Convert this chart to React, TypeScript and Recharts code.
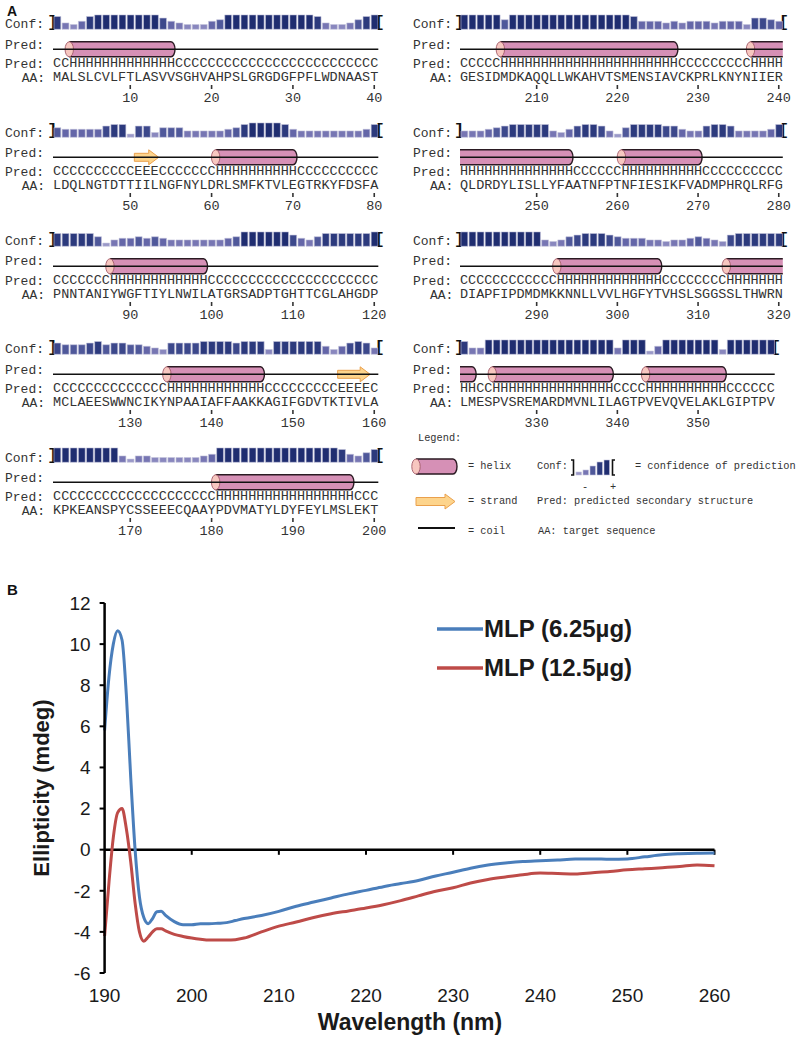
import React from "react";
import {
  ComposedChart,
  Bar,
  Cell,
  XAxis,
  YAxis,
  ReferenceArea,
  ReferenceLine,
  LineChart,
  Line,
  Legend,
} from "recharts";

// ---- panel A: secondary structure prediction ----
const ROW_START = [1, 41, 81, 121, 161, 201, 241, 281, 321];

const AA_ROWS = [
  "MALSLCVLFT" + "LASVVSGHVA" + "HPSLGRGDGF" + "PFLWDNAAST",
  "LDQLNGTDTT" + "IILNGFNYLD" + "RLSMFKTVLE" + "GTRKYFDSFA",
  "PNNTANIYWG" + "FTIYLNWILA" + "TGRSADPTGH" + "TTCGLAHGDP",
  "MCLAEESWWN" + "CIKYNPAAIA" + "FFAAKKAGIF" + "GDVTKTIVLA",
  "KPKEANSPYC" + "SSEEECQAAY" + "PDVMATYLDY" + "FEYLMSLEKT",
  "GESIDMDKAQ" + "QLLWKAHVTS" + "MENSIAVCKP" + "RLKNYNIIER",
  "QLDRDYLISL" + "LYFAATNFPT" + "NFIESIKFVA" + "DMPHRQLRFG",
  "DIAPFIPDMD" + "MKKNNLLVVL" + "HGFYTVHSLS" + "GGSSLTHWRN",
  "LMESPVSREM" + "ARDMVNLILA" + "GTPVEVQVEL" + "AKLGIPTPV",
];

const PRED_ROWS = [
  "CCHHHHHHHH" + "HHHHHCCCCC" + "CCCCCCCCCC" + "CCCCCCCCCC",
  "CCCCCCCCCC" + "EEECCCCCCC" + "HHHHHHHHHH" + "CCCCCCCCCC",
  "CCCCCCCHHH" + "HHHHHHHHHC" + "CCCCCCCCCC" + "CCCCCCCCCC",
  "CCCCCCCCCC" + "CCCCHHHHHH" + "HHHHHHCCCC" + "CCCCCEEEEC",
  "CCCCCCCCCC" + "CCCCCCCCCC" + "HHHHHHHHHH" + "HHHHHHHCCC",
  "CCCCCHHHHH" + "HHHHHHHHHH" + "HHHHHHHCCC" + "CCCCCCHHHH",
  "HHHHHHHHHH" + "HHHHCCCCCC" + "HHHHHHHHHH" + "CCCCCCCCCC",
  "CCCCCCCCCC" + "CCHHHHHHHH" + "HHHHHCCCCC" + "CCCHHHHHHH",
  "HHCCHHHHHH" + "HHHHHHHHHC" + "CCCHHHHHHH" + "HHHCCCCCC",
];

const CONF_ROWS = [
  "8435899999" + "9997543335" + "6999999999" + "9984334689",
  "6555557882" + "7736664444" + "4568999985" + "4444444458",
  "8888862455" + "6565444444" + "4569999997" + "5468888889",
  "7666786776" + "6543777788" + "8878883888" + "8885357874",
  "9999999942" + "4433333345" + "9999999999" + "9999985468",
  "9999969999" + "9999999999" + "9855545455" + "5455537765",
  "4445678888" + "8435788742" + "6888877544" + "7887444458",
  "9999999999" + "4346788876" + "5554434456" + "5437888888",
  "8449999999" + "9999999994" + "9992599999" + "993999999",
];

// ---- panel B: CD spectra ----
const WAVELENGTH = [
  190, 190.5, 191, 191.5, 192, 192.5, 193, 193.5, 194, 194.5, 195, 195.5, 196, 196.5, 197,
  198, 199, 200, 201, 202, 203, 204, 205, 206,
  208, 210, 212, 214, 216, 218, 220, 222, 224, 226, 228, 230, 232, 234, 236, 238, 240,
  242, 244, 246, 248, 250, 252, 254, 256, 258, 260,
];
const MLP_625 = [
  5.8, 8.4, 10.0, 10.65, 10.2, 7.5, 3.5, 0.0, -2.3, -3.3, -3.6, -3.35, -3.02, -3.0, -3.2,
  -3.5, -3.65, -3.65, -3.6, -3.6, -3.58, -3.55, -3.45, -3.35,
  -3.2, -3.0, -2.75, -2.55, -2.35, -2.15, -1.98, -1.8, -1.65, -1.5, -1.28, -1.1, -0.9, -0.75, -0.65, -0.58, -0.54,
  -0.5, -0.46, -0.45, -0.47, -0.45, -0.35, -0.25, -0.2, -0.17, -0.16,
];
const MLP_125 = [
  -4.2, -1.6, 0.6, 1.8, 2.0, 1.0, -0.6, -2.6, -4.0, -4.45, -4.25, -4.0, -3.85, -3.85, -3.95,
  -4.12, -4.22, -4.3, -4.36, -4.4, -4.4, -4.4, -4.38, -4.3,
  -4.0, -3.72, -3.52, -3.3, -3.12, -2.98, -2.84, -2.68, -2.48, -2.25, -2.02, -1.85, -1.62, -1.45, -1.33, -1.22, -1.14,
  -1.16, -1.18, -1.12, -1.06, -0.98, -0.93, -0.88, -0.82, -0.74, -0.78,
];
const X_TICKS = [190, 200, 210, 220, 230, 240, 250, 260];
const Y_TICKS = [-6, -4, -2, 0, 2, 4, 6, 8, 10, 12];

const MONO = '"Liberation Mono", "Courier New", monospace';
const SANS = '"Liberation Sans", Arial, sans-serif';
const TXT = "#333";

const CONF_SHADES = [
  "#b8b6d8", "#aaa8d0", "#9a98c8", "#8987be", "#7776b3",
  "#6466a8", "#4f589a", "#3c488b", "#2c3a7d", "#1f2d70",
];

const CD_DATA = WAVELENGTH.map((w, i) => ({ wl: w, a: MLP_625[i], b: MLP_125[i] }));

function runs(pred: string, start: number) {
  const out: { t: string; s: number; e: number }[] = [];
  let i = 0;
  while (i < pred.length) {
    let j = i;
    while (j + 1 < pred.length && pred[j + 1] === pred[i]) j++;
    if (pred[i] !== "C") out.push({ t: pred[i], s: start + i, e: start + j });
    i = j + 1;
  }
  return out;
}

function helixShape(capLeft: boolean, roundRight: boolean) {
  return (p: any) => {
    const { x, y, width, height } = p;
    const r = 4;
    const ry = height / 2;
    const rt = x + width;
    const fill = roundRight
      ? `M${x},${y} L${rt - r},${y} A${r},${ry} 0 0 1 ${rt - r},${y + height} L${x},${y + height} Z`
      : `M${x},${y} L${rt},${y} L${rt},${y + height} L${x},${y + height} Z`;
    const edge = roundRight
      ? `M${x},${y} L${rt - r},${y} A${r},${ry} 0 0 1 ${rt - r},${y + height} L${x},${y + height}`
      : `M${x},${y} L${rt},${y} M${x},${y + height} L${rt},${y + height}`;
    return (
      <g>
        <path d={fill} fill="#d690b6" />
        <path d={edge} fill="none" stroke="#2a1a22" strokeWidth={1.4} />
        {capLeft && (
          <ellipse cx={x} cy={y + ry} rx={4.2} ry={ry} fill="#f7c7c0" stroke="#a35a68" strokeWidth={0.9} />
        )}
      </g>
    );
  };
}

function strandShape(p: any) {
  const { x, y, width, height } = p;
  const cy = y + height / 2;
  const rt = x + width;
  const head = Math.min(10, width * 0.45);
  const pts = [
    [x, cy - 4], [rt - head, cy - 4], [rt - head, cy - 7.5], [rt, cy],
    [rt - head, cy + 7.5], [rt - head, cy + 4], [x, cy + 4],
  ].map((q) => q.join(",")).join(" ");
  return <polygon points={pts} fill="#fdd48c" stroke="#eaa04c" strokeWidth={1} />;
}

function Txt(props: { x: number; cy: number; size: number; family?: string; weight?: string; color?: string; children: React.ReactNode }) {
  const { x, cy, size, family = MONO, weight = "normal", color = TXT } = props;
  return (
    <div
      style={{
        position: "absolute",
        left: x,
        top: cy - size * 0.5,
        fontSize: size,
        lineHeight: `${size}px`,
        fontFamily: family,
        fontWeight: weight as any,
        color,
        whiteSpace: "pre",
      }}
    >
      {props.children}
    </div>
  );
}

function SeqBlock({ idx }: { idx: number }) {
  const start = ROW_START[idx];
  const aa = AA_ROWS[idx];
  const pred = PRED_ROWS[idx];
  const conf = CONF_ROWS[idx];
  const end = start + aa.length - 1;
  const data = aa.split("").map((_, i) => ({ r: start + i, conf: Number(conf[i]) }));
  const residues = data.map((d) => d.r);
  const numTicks = residues.filter((r) => r % 10 === 0);
  const segs = runs(pred, start);
  const rightCol = idx >= 5;
  const row = rightCol ? idx - 5 : idx;
  const charW = rightCol ? 8.07 : 8.133;
  const left = rightCol ? 460 : 53.3;
  const top = 13 + 108.35 * row;
  const base = top + 16.3;
  const domain = [start - 0.5, start + 39.5];
  const last = ROW_START.length - 1;

  const letterTick = (letters: string) => (p: any) => (
    <text x={p.x} y={p.y + 7} textAnchor="middle" dominantBaseline="central" fontFamily={MONO} fontSize={13.5} fill={TXT}>
      {letters[p.payload.value - start]}
    </text>
  );
  const numTick = (p: any) => (
    <text x={p.x} y={p.y + 7} textAnchor="middle" dominantBaseline="central" fontFamily={MONO} fontSize={13.5} fill={TXT}>
      {p.payload.value}
    </text>
  );

  const labelX = rightCol ? 413 : 5;
  const aaX = rightCol ? 430 : 21.7;

  // axis ids sort in stacking order: x1 (pred) nearest the plot, then x2 (aa), x3 (numbers)
  return (
    <>
      <Txt x={labelX} cy={base - 4.5} size={13}>Conf:</Txt>
      <Txt x={labelX} cy={base + 15.7} size={13}>Pred:</Txt>
      <Txt x={labelX} cy={base + 35} size={13}>Pred:</Txt>
      <Txt x={aaX} cy={base + 49} size={13}>AA:</Txt>
      <Txt x={left - 6} cy={base - 7} size={17} weight="bold" color="#111">]</Txt>
      <Txt x={left + aa.length * charW - 4} cy={base - 7} size={17} weight="bold" color="#111">[</Txt>
      <div style={{ position: "absolute", left, top }}>
        <ComposedChart width={40 * charW} height={96} data={data} margin={{ top: 0, right: 0, bottom: 0, left: 0 }}>
          <YAxis yAxisId="c" type="number" domain={[-17.31, 10.19]} allowDataOverflow hide width={0} />
          <XAxis
            xAxisId="x1" dataKey="r" type="number" domain={domain} ticks={residues} interval={0} allowDataOverflow
            height={14} axisLine={false} tickLine={false} tickSize={0} tickMargin={0} tick={letterTick(pred)}
          />
          <XAxis
            xAxisId="x2" dataKey="r" type="number" domain={domain} ticks={residues} interval={0} allowDataOverflow
            height={14} axisLine={false} tickLine={false} tickSize={0} tickMargin={0} tick={letterTick(aa)}
          />
          <XAxis
            xAxisId="x3" dataKey="r" type="number" domain={domain} ticks={numTicks} interval={0} allowDataOverflow
            height={24} axisLine={false} tickLine={{ stroke: "#333", strokeWidth: 1.6 }} tickSize={4} tickMargin={3} tick={numTick}
          />
          <XAxis xAxisId="x9" dataKey="r" type="number" domain={domain} ticks={residues} allowDataOverflow hide height={0} />
          <Bar dataKey="conf" xAxisId="x9" yAxisId="c" barSize={6.8} isAnimationActive={false}>
            {data.map((d) => (
              <Cell key={d.r} fill={CONF_SHADES[d.conf]} stroke="#c4c4dc" strokeWidth={0.6} />
            ))}
          </Bar>
          <ReferenceLine
            xAxisId="x9" yAxisId="c"
            segment={[{ x: start - 0.5, y: -12.5 }, { x: end + 0.5, y: -12.5 }]}
            stroke="#111" strokeWidth={1.6}
          />
          {segs.map((s) =>
            s.t === "H" ? (
              <ReferenceArea
                key={`h${s.s}`} xAxisId="x9" yAxisId="c" x1={s.s - 0.5} x2={s.e + 0.5} y1={-17.2} y2={-7.8}
                shape={helixShape(
                  !(s.s === start && idx > 0 && PRED_ROWS[idx - 1].endsWith("H")),
                  !(s.e === end && idx < last && PRED_ROWS[idx + 1].startsWith("H"))
                )}
              />
            ) : (
              <ReferenceArea
                key={`e${s.s}`} xAxisId="x9" yAxisId="c" x1={s.s - 0.5} x2={s.e + 0.5} y1={-17.2} y2={-7.8}
                shape={strandShape}
              />
            )
          )}
        </ComposedChart>
      </div>
    </>
  );
}

function SSLegend() {
  return (
    <>
      <Txt x={418} cy={438} size={10.3}>Legend:</Txt>
      <svg style={{ position: "absolute", left: 411, top: 458 }} width={50} height={17}>
        <path d="M5,1 L42,1 A4,7.5 0 0 1 42,16 L5,16 Z" fill="#d690b6" />
        <path d="M5,1 L42,1 A4,7.5 0 0 1 42,16 L5,16" fill="none" stroke="#2a1a22" strokeWidth={1.4} />
        <ellipse cx={5} cy={8.5} rx={4.2} ry={7.5} fill="#f7c7c0" stroke="#a35a68" strokeWidth={0.9} />
      </svg>
      <Txt x={468} cy={466} size={10.3}>= helix</Txt>
      <Txt x={537} cy={466} size={10.3}>Conf:</Txt>
      <svg style={{ position: "absolute", left: 570, top: 458 }} width={54} height={18}>
        <path d="M1,2 H3.5 V17 H1" fill="none" stroke="#111" strokeWidth={1.6} />
        <rect x={6} y={14} width={5.5} height={3} fill={CONF_SHADES[2]} stroke="#c4c4dc" strokeWidth={0.6} />
        <rect x={13} y={12} width={5.5} height={5} fill={CONF_SHADES[4]} stroke="#c4c4dc" strokeWidth={0.6} />
        <rect x={20} y={8} width={5.5} height={9} fill={CONF_SHADES[6]} stroke="#c4c4dc" strokeWidth={0.6} />
        <rect x={27} y={4} width={5.5} height={13} fill={CONF_SHADES[8]} stroke="#c4c4dc" strokeWidth={0.6} />
        <rect x={34} y={2} width={5.5} height={15} fill={CONF_SHADES[9]} stroke="#c4c4dc" strokeWidth={0.6} />
        <path d="M45,2 H42.5 V17 H45" fill="none" stroke="#111" strokeWidth={1.6} />
      </svg>
      <Txt x={582} cy={487} size={10.3}>-</Txt>
      <Txt x={610} cy={487} size={10.3}>+</Txt>
      <Txt x={635} cy={466} size={10.3}>= confidence of prediction</Txt>
      <svg style={{ position: "absolute", left: 415, top: 493 }} width={42} height={17}>
        <polygon points="1,4.5 30,4.5 30,1 40,8.5 30,16 30,12.5 1,12.5" fill="#fdd48c" stroke="#eaa04c" strokeWidth={1} />
      </svg>
      <Txt x={468} cy={501} size={10.3}>= strand</Txt>
      <Txt x={537} cy={501} size={10.3}>Pred: predicted secondary structure</Txt>
      <svg style={{ position: "absolute", left: 417, top: 525 }} width={40} height={6}>
        <line x1={1} y1={3} x2={38} y2={3} stroke="#111" strokeWidth={2} />
      </svg>
      <Txt x={468} cy={531} size={10.3}>= coil</Txt>
      <Txt x={538} cy={531} size={10.3}>AA: target sequence</Txt>
    </>
  );
}

const renderCdLegend = (props: any) => (
  <div>
    {(props.payload || []).map((e: any) => (
      <div key={e.value} style={{ display: "flex", alignItems: "center", height: 39 }}>
        <svg width={46} height={8}>
          <line x1={0} y1={4} x2={46} y2={4} stroke={e.color} strokeWidth={3.5} />
        </svg>
        <span style={{ fontFamily: SANS, fontWeight: "bold", fontSize: 24, color: "#1a1a1a", marginLeft: 1 }}>
          {e.value}
        </span>
      </div>
    ))}
  </div>
);

function CdChart() {
  return (
    <div style={{ position: "absolute", left: 0, top: 560 }}>
      <LineChart width={760} height={480} data={CD_DATA} margin={{ top: 43, right: 45.5, bottom: 7, left: 54.6 }}>
        <XAxis
          dataKey="wl" type="number" domain={[190, 260]} ticks={X_TICKS} interval={0} height={60}
          axisLine={false} tickLine={false} tickSize={0} tickMargin={16}
          tick={{ fontSize: 19, fill: "#1a1a1a", fontFamily: SANS }}
        />
        <YAxis
          type="number" domain={[-6, 12]} ticks={Y_TICKS} interval={0} width={50}
          axisLine={{ stroke: "#000", strokeWidth: 2.5 }} tickLine={{ stroke: "#000", strokeWidth: 2 }}
          tickSize={5} tickMargin={9} tick={{ fontSize: 19, fill: "#1a1a1a", fontFamily: SANS }}
        />
        <ReferenceLine y={0} stroke="#000" strokeWidth={2.5} />
        {X_TICKS.slice(1).map((t) => (
          <ReferenceLine key={t} segment={[{ x: t, y: 0 }, { x: t, y: -0.25 }]} stroke="#000" strokeWidth={2} />
        ))}
        <Line type="monotone" dataKey="a" name="MLP (6.25µg)" stroke="#4a7ebb" strokeWidth={3} dot={false} isAnimationActive={false} />
        <Line type="monotone" dataKey="b" name="MLP (12.5µg)" stroke="#be4b48" strokeWidth={3} dot={false} isAnimationActive={false} />
        <Legend
          layout="vertical" align="center" verticalAlign="middle" content={renderCdLegend} itemSorter="dataKey"
          wrapperStyle={{ left: 437, top: 49.5, width: 280 }}
        />
      </LineChart>
    </div>
  );
}

export default function App() {
  return (
    <div style={{ position: "absolute", left: 0, top: 0, width: 800, height: 1042, background: "#fff" }}>
      <style>{".recharts-surface{overflow:visible}"}</style>
      <Txt x={7} cy={10.5} size={14} family={SANS} weight="bold" color="#111">A</Txt>
      {ROW_START.map((_, i) => (
        <SeqBlock key={i} idx={i} />
      ))}
      <SSLegend />
      <Txt x={7} cy={589} size={15} family={SANS} weight="bold" color="#111">B</Txt>
      <CdChart />
      <div
        style={{
          position: "absolute", left: 42, top: 788, transform: "translate(-50%, -50%) rotate(-90deg)",
          fontFamily: SANS, fontWeight: "bold", fontSize: 22, color: "#1a1a1a", whiteSpace: "nowrap",
        }}
      >
        Ellipticity (mdeg)
      </div>
      <div
        style={{
          position: "absolute", left: 410, top: 1022, transform: "translate(-50%, -50%)",
          fontFamily: SANS, fontWeight: "bold", fontSize: 23, color: "#1a1a1a", whiteSpace: "nowrap",
        }}
      >
        Wavelength (nm)
      </div>
    </div>
  );
}
